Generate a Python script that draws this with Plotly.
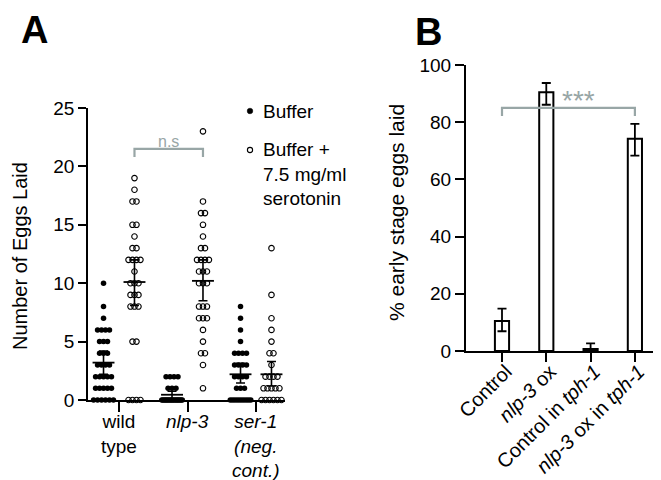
import plotly.graph_objects as go
from collections import Counter

FONT = "Liberation Sans"
GRAY = "#98a6a6"

# ---------------- Panel A data ----------------
groups_a = ["wild<br>type", "<i>nlp-3</i>", "<i>ser-1<br>(neg.<br>cont.)</i>"]
wt_buffer = [10, 8, 7, 6, 6, 6, 6, 5, 5, 5, 4, 4, 4, 3, 3, 3, 3, 2, 2, 2, 2, 2,
             1, 1, 1, 1, 1, 0, 0, 0, 0, 0, 0]
wt_sero = [19, 18, 17, 17, 15, 15, 14, 13, 13, 12, 12, 12, 12, 11, 10, 10, 10,
           9, 9, 9, 8, 8, 8, 5, 5, 0, 0, 0, 0]
nlp_buffer = [2, 2, 2, 2, 1, 1, 1, 0, 0, 0, 0, 0, 0, 0, 0, 0, 0, 0, 0, 0, 0,
              0, 0, 0, 0]
nlp_sero = [23, 17, 16, 16, 15, 14, 13, 13, 12, 12, 12, 12, 11, 11, 11, 10, 10,
            10, 8, 8, 8, 7, 7, 7, 6, 5, 4, 4, 3, 1]
ser_buffer = [8, 7, 6, 5, 4, 4, 4, 4, 3, 3, 3, 3, 2, 2, 2, 2, 1, 1, 1,
              0, 0, 0, 0, 0, 0, 0, 0, 0, 0]
ser_sero = [13, 9, 7, 6, 5, 4, 4, 3, 2, 2, 2, 2, 1, 1, 1, 1, 1, 0, 0, 0, 0, 0, 0]

buffer_mean = [3.2, 0.45, 2.2]
buffer_err_up = [1.0, 0.3, 0.95]
buffer_err_down = [1.0, 0.35, 0.75]
sero_mean = [10.1, 10.2, 2.2]
sero_err_up = [1.9, 1.8, 1.1]
sero_err_down = [2.0, 1.7, 1.0]

legend_a = ["Buffer", "Buffer +<br>7.5 mg/ml<br>serotonin"]
ns_text = "n.s"

# ---------------- Panel B data ----------------
labels_b = ["Control", "<i>nlp-3</i> ox", "Control in <i>tph-1</i>",
            "<i>nlp-3</i> ox in <i>tph-1</i>"]
values_b = [10.5, 90.5, 0.7, 74.2]
err_up_b = [4.3, 3.2, 2.0, 5.2]
err_down_b = [3.6, 4.4, 0.7, 5.9]
sig_text = "***"

OFF = 0.226


def swarm(vals, center, spacing=0.058, maxw=0.30):
    xs, ys = [], []
    for v, n in sorted(Counter(vals).items()):
        sp = min(spacing, maxw / (n - 1)) if n > 1 else 0
        for i in range(n):
            xs.append(center + (i - (n - 1) / 2) * sp)
            ys.append(v)
    return xs, ys


fig = go.Figure()

buffers = [wt_buffer, nlp_buffer, ser_buffer]
seros = [wt_sero, nlp_sero, ser_sero]

for gi in range(3):
    bx, by = swarm(buffers[gi], gi - OFF)
    fig.add_trace(go.Scatter(x=bx, y=by, mode="markers", cliponaxis=False,
                             marker=dict(symbol="circle", size=5.5, color="black"),
                             showlegend=False, xaxis="x", yaxis="y"))
    sx, sy = swarm(seros[gi], gi + OFF)
    fig.add_trace(go.Scatter(x=sx, y=sy, mode="markers", cliponaxis=False,
                             marker=dict(symbol="circle-open", size=5.5, color="black",
                                         line=dict(width=1.1, color="black")),
                             showlegend=False, xaxis="x", yaxis="y"))

# mean lines + error bars
centers = [g - OFF for g in range(3)] + [g + OFF for g in range(3)]
means = buffer_mean + sero_mean
eu = buffer_err_up + sero_err_up
ed = buffer_err_down + sero_err_down
mx, my = [], []
for c, m in zip(centers, means):
    mx += [c - 0.16, c + 0.16, None]
    my += [m, m, None]
fig.add_trace(go.Scatter(x=mx, y=my, mode="lines", line=dict(color="black", width=1.8),
                         cliponaxis=False, showlegend=False, xaxis="x", yaxis="y"))
fig.add_trace(go.Scatter(x=centers, y=means, mode="markers", cliponaxis=False,
                         marker=dict(size=1, color="rgba(0,0,0,0)"),
                         error_y=dict(type="data", symmetric=False, array=eu,
                                      arrayminus=ed, color="black", thickness=1.6, width=4.5),
                         showlegend=False, xaxis="x", yaxis="y"))

# Panel B bars
fig.add_trace(go.Bar(x=list(range(4)), y=values_b, width=0.32,
                     marker=dict(color="white", line=dict(color="black", width=2)),
                     error_y=dict(type="data", symmetric=False, array=err_up_b,
                                  arrayminus=err_down_b, color="black", thickness=1.8, width=4.5),
                     cliponaxis=False, showlegend=False, xaxis="x2", yaxis="y2"))

W, H = 661, 480


def px(x):
    return x / W


def py(y):
    return 1 - y / H


axis_common = dict(showline=True, linecolor="black", ticks="outside", tickcolor="black",
                   showgrid=False, zeroline=False, automargin=False,
                   tickfont=dict(family=FONT, size=19, color="black"))

fig.update_layout(
    width=W, height=H, margin=dict(l=0, r=0, t=0, b=0),
    paper_bgcolor="white", plot_bgcolor="white", showlegend=False,
    font=dict(family=FONT, color="black"),
    xaxis=dict(axis_common, domain=[px(80), px(277)], range=[-0.4526, 2.4234],
               tickvals=[0, 1, 2], ticktext=["", "", ""], linewidth=1.6, tickwidth=1.6,
               ticklen=10),
    yaxis=dict(axis_common, domain=[py(392), py(100)], range=[0, 25],
               tickvals=[0, 5, 10, 15, 20, 25], linewidth=1.6, tickwidth=1.6, ticklen=8),
    xaxis2=dict(axis_common, domain=[px(458), 1.0], range=[-0.8126, 3.77],
                tickvals=[0, 1, 2, 3], ticktext=labels_b, tickangle=-45,
                tickfont=dict(family=FONT, size=20, color="black"),
                ticklabelstandoff=-10, ticklabelshift=4,
                linewidth=2, tickwidth=2, ticklen=9, anchor="y2"),
    yaxis2=dict(axis_common, domain=[py(343), py(57)], range=[0, 100],
                tickvals=[0, 20, 40, 60, 80, 100], linewidth=2, tickwidth=2, ticklen=9,
                anchor="x2"),
)

# brackets
fig.add_shape(type="path", xref="x", yref="y",
              path=f"M {OFF},20.8 L {OFF},21.5 L {1 + OFF},21.5 L {1 + OFF},20.8",
              line=dict(color=GRAY, width=2.2))
fig.add_shape(type="path", xref="x2", yref="y2",
              path="M 0,82.2 L 0,85 L 3,85 L 3,82.2",
              line=dict(color=GRAY, width=2.2))

# legend markers
fig.add_shape(type="circle", xref="paper", yref="paper", xsizemode="pixel",
              ysizemode="pixel", xanchor=px(242), yanchor=py(103),
              x0=-2.8, x1=2.8, y0=-2.8, y1=2.8, fillcolor="black",
              line=dict(color="black", width=0.5))
fig.add_shape(type="circle", xref="paper", yref="paper", xsizemode="pixel",
              ysizemode="pixel", xanchor=px(242), yanchor=py(142),
              x0=-2.6, x1=2.6, y0=-2.6, y1=2.6, fillcolor="white",
              line=dict(color="black", width=1.1))

ann = [
    dict(text="<b>A</b>", x=px(26), y=py(22), font=dict(size=38)),
    dict(text="<b>B</b>", x=px(420), y=py(24), font=dict(size=38)),
    dict(text="Number of Eggs Laid", x=px(12), y=py(248), textangle=-90,
         font=dict(size=20)),
    dict(text="% early stage eggs laid", x=px(389), y=py(205), textangle=-90,
         font=dict(size=21)),
    dict(text=legend_a[0], x=px(253), y=py(103), xanchor="left", font=dict(size=19)),
    dict(text=legend_a[1], x=px(253), y=py(166), xanchor="left", align="left",
         font=dict(size=19)),
    dict(text=ns_text, x=px(160), y=py(133), font=dict(size=16, color=GRAY)),
    dict(text=sig_text, x=px(570), y=py(92), font=dict(size=28, color=GRAY)),
]
for a in ann:
    a.setdefault("xanchor", "center")
    a.update(xref="paper", yref="paper", showarrow=False, yanchor="middle")
    a["font"] = dict(dict(family=FONT, color="black"), **a["font"])
    fig.add_annotation(**a)

# category labels for panel A
for gi, lab in enumerate(groups_a):
    fig.add_annotation(text=lab, x=gi, xref="x", y=py(401), yref="paper",
                       xanchor="center", yanchor="top", showarrow=False,
                       font=dict(family=FONT, size=19, color="black"))

fig.write_html("out.html")
